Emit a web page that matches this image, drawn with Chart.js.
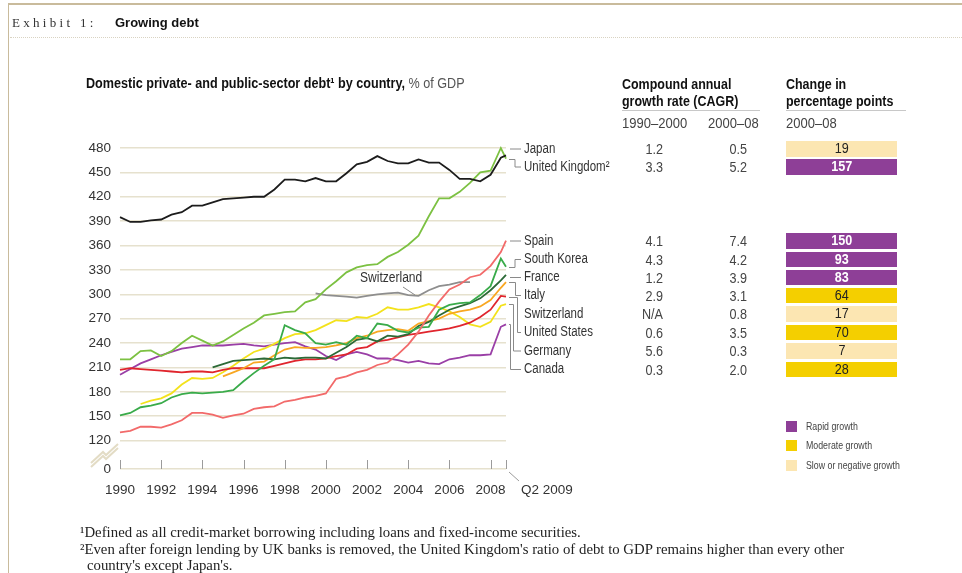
<!DOCTYPE html>
<html>
<head>
<meta charset="utf-8">
<script src="https://cdn.jsdelivr.net/npm/chart.js@4.4.1/dist/chart.umd.min.js"></script>
<style>
  html, body { margin: 0; padding: 0; background: #fff; }
  #page { position: relative; width: 962px; height: 573px; overflow: hidden;
    font-family: "Liberation Sans", Arial, sans-serif; color: #333; }
  #chart { position: absolute; left: 0; top: 0; }
  .t { position: absolute; white-space: nowrap; line-height: 1; }
  .n { transform-origin: 0 50%; }
  .rule-top { position: absolute; left: 8px; top: 3px; width: 954px; border-top: 2px solid #c9bb9c; }
  .rule-left { position: absolute; left: 8px; top: 3px; height: 570px; border-left: 1.5px solid #c9bb9c; }
  .rule-dot { position: absolute; left: 10px; top: 37px; width: 952px; border-top: 1px dotted #d9d3c2; }
  .box { position: absolute; text-align: center; font-size: 14px; line-height: 15.5px; }
  .under { position: absolute; border-top: 1.5px solid #c8c8c8; }
  .foot { position: absolute; white-space: nowrap; line-height: 1; font: 14.8px "Liberation Serif", serif; color: #222; }
  .hd { font-size: 14px; font-weight: bold; color: #111; transform: scaleX(0.89); }
  .sub { font-size: 14px; color: #444; transform: scaleX(0.93); }
</style>
</head>
<body>
<div id="page">
  <canvas id="chart" width="962" height="573"></canvas>
  <div class="rule-top"></div>
  <div class="rule-left"></div>
  <div class="rule-dot"></div>
  <div class="t" style="left:12px; top:15px; font:13px 'Liberation Serif', serif; letter-spacing:3.3px; color:#333;">Exhibit 1:</div>
  <div class="t" style="left:115px; top:15px; font:bold 13px 'Liberation Sans', Arial, sans-serif; color:#111;">Growing debt</div>
  <div class="t n" style="left:86px; top:76px; font-size:14px; color:#111; transform:scaleX(0.9);"><b>Domestic private- and public-sector debt¹ by country,</b> <span style="color:#555">% of GDP</span></div>
  <div class="t n hd" style="left:622px; top:77px;">Compound annual</div>
  <div class="t n hd" style="left:622px; top:94px;">growth rate (CAGR)</div>
  <div class="t n hd" style="left:786px; top:77px;">Change in</div>
  <div class="t n hd" style="left:786px; top:94px;">percentage points</div>
  <div class="under" style="left:622px; top:110px; width:138px;"></div>
  <div class="under" style="left:786px; top:110px; width:120px;"></div>
  <div class="t n sub" style="left:622px; top:116px;">1990–2000</div>
  <div class="t n sub" style="left:708px; top:116px;">2000–08</div>
  <div class="t n sub" style="left:786px; top:116px;">2000–08</div>
  <div id="table"></div>
  <div id="legend"></div>
  <div class="foot" style="left:80px; top:524px;">¹Defined as all credit-market borrowing including loans and fixed-income securities.</div>
  <div class="foot" style="left:80px; top:541px;">²Even after foreign lending by UK banks is removed, the United Kingdom's ratio of debt to GDP remains higher than every other</div>
  <div class="foot" style="left:87px; top:557px;">country's except Japan's.</div>
</div>
<script>
// half-year periods, last point is Q2 2009
const periods = [1990, 1990.5, 1991, 1991.5, 1992, 1992.5, 1993, 1993.5, 1994, 1994.5,
  1995, 1995.5, 1996, 1996.5, 1997, 1997.5, 1998, 1998.5, 1999, 1999.5,
  2000, 2000.5, 2001, 2001.5, 2002, 2002.5, 2003, 2003.5, 2004, 2004.5,
  2005, 2005.5, 2006, 2006.5, 2007, 2007.5, 2008, 2008.5, 2008.75];

const japan = [395, 389, 389, 391, 392, 398, 401, 409, 409, 413, 417, 418, 419, 420, 420, 429, 441, 441, 439, 443,
  439, 439, 449, 460, 463, 470, 464, 461, 461, 466, 462, 462, 453, 442, 442, 439, 447, 468, 471];
const unitedKingdom = [220, 220, 230, 231, 224, 230, 240, 249, 243, 237, 242, 250, 258, 265, 274, 276, 278, 279, 290, 294,
  306, 316, 327, 333, 336, 337, 346, 352, 361, 372, 396, 418, 418, 426, 437, 450, 452, 480, 467];
const spain = [130, 132, 137, 137, 136, 140, 145, 154, 154, 152, 148, 151, 153, 159, 161, 162, 168, 170, 173, 175,
  178, 196, 199, 204, 207, 213, 216, 226, 238, 254, 274, 291, 306, 312, 321, 324, 335, 352, 366];
const southKorea = [151, 154, 161, 163, 166, 173, 177, 179, 178, 179, 180, 182, 193, 203, 212, 220, 262, 256, 252, 240,
  238, 241, 238, 249, 246, 264, 262, 255, 253, 259, 260, 281, 287, 289, 290, 299, 310, 344, 334];
const france = [null, null, null, null, null, null, null, null, null, 210, 214, 218, 219, 220, 221, 220, 222, 221, 222, 222,
  221, 228, 235, 244, 246, 242, 249, 248, 251, 261, 266, 274, 281, 285, 289, 295, 305, 317, 324];
const italy = [null, null, null, null, null, null, null, null, null, null, 199, 204, 209, 216, 217, 225, 232, 235, 234, 234,
  235, 237, 240, 246, 249, 254, 256, 257, 255, 264, 267, 270, 276, 279, 281, 285, 293, 308, 315];
const switzerland = [null, null, null, null, null, null, null, null, null, null, null, null, null, null, null, null, null, null, null, 301,
  299, 298, 297, 296, 298, 300, 301, 302, 299, 298, 305, 310, 312, 315, 315, null, null, null, null];
const unitedStates = [207, 209, 208, 207, 206, 205, 204, 205, 205, 204, 207, 209, 209, 209, 209, 212, 215, 218, 220, 220,
  221, 224, 226, 233, 235, 242, 244, 247, 250, 252, 254, 256, 258, 261, 265, 272, 281, 298, 297];
const germany = [null, null, 165, 169, 172, 178, 189, 197, 196, 197, 204, 212, 221, 229, 233, 239, 246, 251, 252, 256,
  262, 268, 267, 272, 271, 276, 284, 281, 281, 284, 288, 284, 279, 272, 263, 260, 266, 286, 288];
const canada = [201, 208, 215, 220, 225, 229, 233, 235, 237, 237, 237, 238, 239, 237, 236, 238, 240, 241, 236, 232,
  224, 219, 226, 229, 226, 221, 221, 219, 216, 218, 215, 214, 220, 222, 225, 225, 226, 260, 263];

const countries = ["Japan", "United Kingdom²", "Spain", "South Korea", "France", "Italy",
  "Switzerland", "United States", "Germany", "Canada"];
const cagr1990to2000 = ["1.2", "3.3", "4.1", "4.3", "1.2", "2.9", "N/A", "0.6", "5.6", "0.3"];
const cagr2000to08 = ["0.5", "5.2", "7.4", "4.2", "3.9", "3.1", "0.8", "3.5", "0.3", "2.0"];
const pointChange = [19, 157, 150, 93, 83, 64, 17, 70, 7, 28];
const growthClass = ["slow", "rapid", "rapid", "rapid", "rapid", "moderate", "slow", "moderate", "slow", "moderate"];

const xTicks = [1990, 1992, 1994, 1996, 1998, 2000, 2002, 2004, 2006, 2008, 2008.75];
const yTicks = [85, 120, 150, 180, 210, 240, 270, 300, 330, 360, 390, 420, 450, 480];

const seriesValues = [japan, unitedKingdom, spain, southKorea, france, italy, switzerland, unitedStates, germany, canada];
const lineColors = ["#1c1c1c", "#7cc142", "#f26a6a", "#39ab4a", "#2c6a37", "#f8a722", "#8e8e8e", "#e0252d", "#f3e21c", "#9a3fa6"];
const growthColors = { rapid: "#8e3f97", moderate: "#f4cf00", slow: "#fce6b2" };
const rowY = [149, 167, 241, 259.5, 277.5, 295.5, 314, 332.5, 351, 369.5];
const elbowX = [null, 515, null, 515, null, 515.5, null, 517.5, 513.5, 510.5];

const fontFamily = '"Liberation Sans", Arial, sans-serif';
Chart.defaults.font.family = fontFamily;
Chart.defaults.color = "#333";

// table and legend
const table = document.getElementById("table");
countries.forEach((name, i) => {
  const y = rowY[i];
  const cell = (right, text) =>
    `<div class="t" style="left:${right - 60}px; width:60px; text-align:right; top:${y - 7}px; font-size:14px; color:#444;` +
    `transform:scaleX(0.9); transform-origin:100% 50%;">${text}</div>`;
  table.insertAdjacentHTML("beforeend", cell(663, cagr1990to2000[i]) + cell(747, cagr2000to08[i]));
  const cls = growthClass[i];
  const rapid = cls === "rapid";
  table.insertAdjacentHTML("beforeend",
    `<div class="box" style="left:786px; width:111px; height:15.5px; top:${y - 7.7}px; background:${growthColors[cls]};` +
    `color:${rapid ? "#fff" : "#222"}; font-weight:${rapid ? "bold" : "normal"};">` +
    `<span style="display:inline-block; transform:scaleX(0.9);">${pointChange[i]}</span></div>`);
});

const legendItems = [["rapid", "Rapid growth"], ["moderate", "Moderate growth"], ["slow", "Slow or negative growth"]];
const legend = document.getElementById("legend");
legendItems.forEach(([cls, text], i) => {
  const y = 426 + i * 19.5;
  legend.insertAdjacentHTML("beforeend",
    `<div style="position:absolute; left:786px; top:${y - 5.5}px; width:11px; height:11px; background:${growthColors[cls]};"></div>` +
    `<div class="t n" style="left:806px; top:${y - 5.5}px; font-size:11px; color:#444; transform:scaleX(0.8);">${text}</div>`);
});

function narrowText(ctx, text, x, y, sx) {
  ctx.save();
  ctx.translate(x, y);
  ctx.scale(sx, 1);
  ctx.fillText(text, 0, 0);
  ctx.restore();
}

const annotations = {
  id: "annotations",
  afterDatasetsDraw(chart) {
    const { ctx, chartArea } = chart;
    const x = chart.scales.x;
    const b = chartArea.bottom;
    ctx.save();

    // axis ticks pointing up
    ctx.strokeStyle = "#9b9b9b";
    ctx.lineWidth = 1;
    xTicks.forEach((v) => {
      const px = Math.round(x.getPixelForValue(v)) + 0.5;
      ctx.beginPath();
      ctx.moveTo(px, b);
      ctx.lineTo(px, b - 9);
      ctx.stroke();
    });

    // Q2 2009 label with its leader
    const qx = x.getPixelForValue(2008.75);
    ctx.beginPath();
    ctx.moveTo(qx + 3, b + 3);
    ctx.lineTo(qx + 13, b + 12);
    ctx.stroke();
    ctx.font = `13.5px ${fontFamily}`;
    ctx.fillStyle = "#333";
    ctx.textAlign = "left";
    ctx.textBaseline = "middle";
    ctx.fillText("Q2 2009", qx + 15, 490);

    // axis break
    ctx.strokeStyle = "#e3dcc5";
    ctx.lineWidth = 2;
    const l = chartArea.left;
    [0, 4].forEach((d) => {
      ctx.beginPath();
      ctx.moveTo(l - 29, b - 6 + d);
      ctx.lineTo(l - 17, b - 17 + d);
      ctx.lineTo(l - 14, b - 14 + d);
      ctx.lineTo(l - 2, b - 25 + d);
      ctx.stroke();
    });

    // country labels and leaders
    ctx.strokeStyle = "#8a8a8a";
    ctx.lineWidth = 1;
    ctx.font = `14px ${fontFamily}`;
    const sx = chartArea.right + 3;
    countries.forEach((name, i) => {
      const ly = rowY[i];
      if (name !== "Switzerland") {
        const pts = chart.getDatasetMeta(i).data;
        const last = pts[pts.length - 1];
        ctx.beginPath();
        if (elbowX[i] === null) {
          ctx.moveTo(sx + 1, ly);
          ctx.lineTo(521, ly);
        } else {
          ctx.moveTo(sx, Math.round(last.y) + 0.5);
          ctx.lineTo(elbowX[i], Math.round(last.y) + 0.5);
          ctx.lineTo(elbowX[i], ly);
          ctx.lineTo(521, ly);
        }
        ctx.stroke();
      }
      ctx.fillStyle = "#333";
      narrowText(ctx, name, 524, ly, 0.82);
    });

    // inline Switzerland label
    narrowText(ctx, "Switzerland", 360, 278, 0.86);
    ctx.beginPath();
    ctx.moveTo(403, 287);
    ctx.lineTo(415, 295);
    ctx.stroke();
    ctx.restore();
  },
};

new Chart(document.getElementById("chart"), {
  type: "line",
  data: {
    datasets: seriesValues.map((vals, i) => ({
      label: countries[i],
      data: vals.map((v, j) => ({ x: periods[j], y: v })),
      borderColor: lineColors[i],
      borderWidth: 1.8,
      pointRadius: 0,
      tension: 0,
      spanGaps: false,
      clip: 6,
    })),
  },
  options: {
    responsive: false,
    animation: false,
    devicePixelRatio: 1,
    layout: { padding: { left: 80, right: 456, top: 148, bottom: 64 } },
    plugins: { legend: { display: false }, tooltip: { enabled: false } },
    scales: {
      x: {
        type: "linear",
        min: 1990,
        max: 2008.75,
        afterBuildTicks: (scale) => { scale.ticks = xTicks.map((v) => ({ value: v })); },
        afterFit: (scale) => { scale.height = 40; },
        grid: { display: false, drawTicks: false },
        border: { display: false },
        ticks: {
          autoSkip: false,
          maxRotation: 0,
          padding: 13,
          color: "#333",
          font: { size: 13.5 },
          callback: (v) => (v === 2008.75 ? "" : String(v)),
        },
      },
      y: {
        min: 85,
        max: 480,
        afterBuildTicks: (scale) => { scale.ticks = yTicks.map((v) => ({ value: v })); },
        afterFit: (scale) => { scale.width = 40; },
        grid: { color: "#e6e1ce", lineWidth: 1.5, drawTicks: false },
        border: { display: false },
        ticks: {
          padding: 9,
          color: "#333",
          font: { size: 13.5 },
          callback: (v) => (v === 85 ? "0" : String(v)),
        },
      },
    },
  },
  plugins: [annotations],
});
</script>
</body>
</html>
